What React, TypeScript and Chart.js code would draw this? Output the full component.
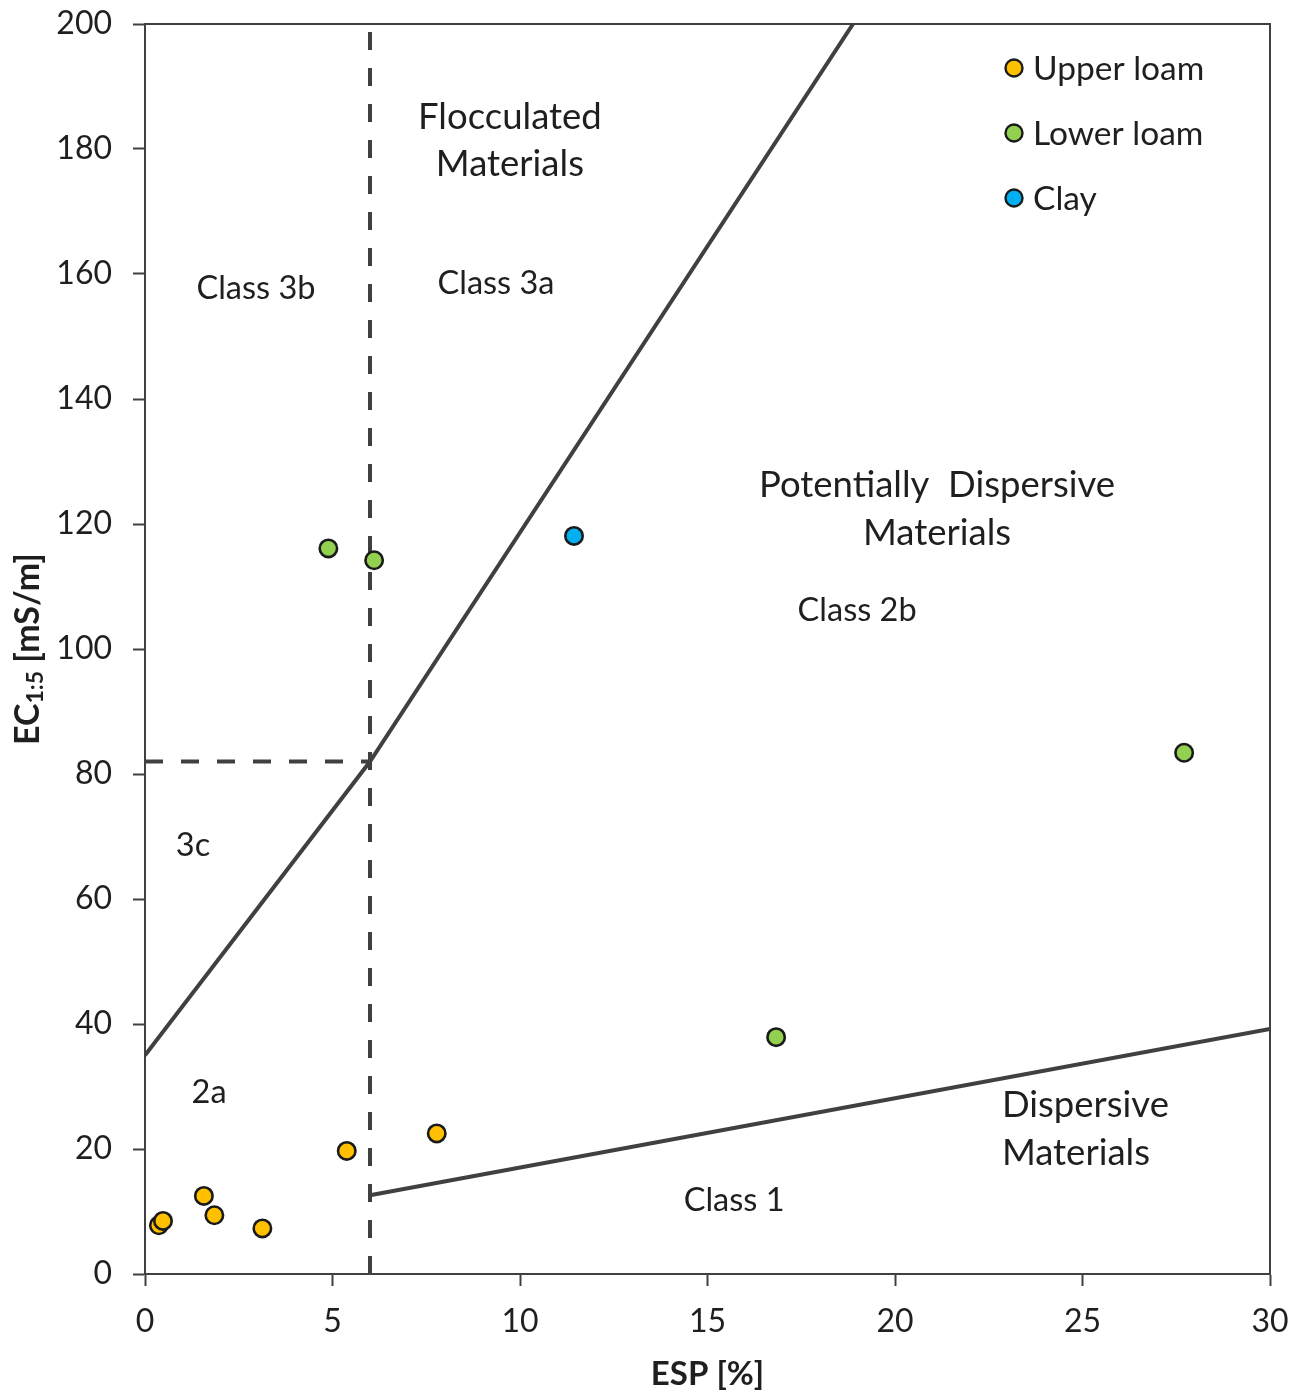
import React, { useEffect, useRef } from "react";
import { Chart, registerables } from "chart.js";

Chart.register(...registerables);

// ---- Data ----
const upperLoamESP = [0.37, 0.48, 1.57, 1.85, 3.13, 5.38, 7.78];
const upperLoamEC = [7.8, 8.5, 12.5, 9.4, 7.3, 19.7, 22.5];
const lowerLoamESP = [4.89, 6.11, 16.83, 27.71];
const lowerLoamEC = [116.1, 114.2, 37.9, 83.4];
const clayESP = [11.44];
const clayEC = [118.1];

// class boundaries
const upperBoundaryESP = [0, 6, 18.88];
const upperBoundaryEC = [35, 82, 200];
const lowerBoundaryESP = [6, 30];
const lowerBoundaryEC = [12.6, 39.2];
const verticalDashESP = [6, 6];
const verticalDashEC = [0, 200];
const horizontalDashESP = [0, 6];
const horizontalDashEC = [82, 82];

const xTickValues = [0, 5, 10, 15, 20, 25, 30];
const yTickValues = [0, 20, 40, 60, 80, 100, 120, 140, 160, 180, 200];

const seriesNames = ["Upper loam", "Lower loam", "Clay"];
const seriesColors = ["#FFC000", "#92D050", "#00B0F0"];

// region labels (text, anchor in data units)
const regionTexts = ["Flocculated", "Materials", "Class 3b", "Class 3a", "Potentially  Dispersive", "Materials", "Class 2b", "3c", "2a", "Dispersive", "Materials", "Class 1"];
const regionESP = [9.73, 9.73, 2.96, 9.36, 21.12, 21.12, 18.99, 1.28, 1.71, 22.85, 22.85, 15.71];
const regionEC = [185.1, 177.5, 157.6, 158.4, 126.2, 118.6, 106.2, 68.5, 29.0, 27.0, 19.4, 11.7];
const regionBig = [true, true, false, false, true, true, false, false, false, true, true, false];
const regionAlign = ["center", "center", "center", "center", "center", "center", "center", "center", "center", "left", "left", "center"];

const FONT = "Lato, 'Noto Sans', sans-serif";
const AXIS = "#404040";
const TEXT = "#1f1f1f";

const toPts = (xs: number[], ys: number[]) => xs.map((x, i) => ({ x, y: ys[i] }));

const overlayPlugin = {
  id: "overlay",
  afterDraw(chart: any) {
    const { ctx, chartArea, scales } = chart;
    const xs = scales.x;
    const ys = scales.y;
    ctx.save();
    // frame
    ctx.strokeStyle = AXIS;
    ctx.lineWidth = 2;
    ctx.strokeRect(chartArea.left, chartArea.top, chartArea.right - chartArea.left, chartArea.bottom - chartArea.top);

    // region labels
    ctx.fillStyle = TEXT;
    ctx.textBaseline = "middle";
    regionTexts.forEach((t, i) => {
      ctx.font = `${regionBig[i] ? 36.5 : 32.5}px ${FONT}`;
      ctx.textAlign = regionAlign[i] as CanvasTextAlign;
      ctx.fillText(t, xs.getPixelForValue(regionESP[i]), ys.getPixelForValue(regionEC[i]));
    });

    // legend
    const lx = chartArea.right - 256;
    const ly0 = chartArea.top + 44;
    seriesNames.forEach((name, i) => {
      const cy = ly0 + i * 65;
      ctx.beginPath();
      ctx.arc(lx, cy, 8.5, 0, Math.PI * 2);
      ctx.fillStyle = seriesColors[i];
      ctx.fill();
      ctx.lineWidth = 2.4;
      ctx.strokeStyle = "#1a1a1a";
      ctx.stroke();
      ctx.fillStyle = TEXT;
      ctx.font = `33.5px ${FONT}`;
      ctx.textAlign = "left";
      ctx.textBaseline = "middle";
      ctx.fillText(name, lx + 19, cy + 1);
    });

    // y axis title with subscript
    ctx.save();
    ctx.translate(28, (chartArea.top + chartArea.bottom) / 2);
    ctx.rotate(-Math.PI / 2);
    ctx.fillStyle = TEXT;
    ctx.textBaseline = "middle";
    ctx.textAlign = "left";
    const parts: [string, number, number][] = [["EC", 34, 0], ["1:5", 23, 8], [" [mS/m]", 34, 0]];
    let total = 0;
    parts.forEach(([t, s]) => {
      ctx.font = `bold ${s}px ${FONT}`;
      total += ctx.measureText(t).width;
    });
    let px = -total / 2;
    parts.forEach(([t, s, dy]) => {
      ctx.font = `bold ${s}px ${FONT}`;
      ctx.fillText(t, px, dy);
      px += ctx.measureText(t).width;
    });
    ctx.restore();
    ctx.restore();
  },
};

export default function App() {
  const ref = useRef<HTMLCanvasElement | null>(null);
  useEffect(() => {
    if (!ref.current) return;
    const lineStyle = {
      type: "line" as const,
      showLine: true,
      pointRadius: 0,
      borderColor: AXIS,
      borderWidth: 4,
      fill: false,
      tension: 0,
      order: 2,
    };
    const pointStyle = (i: number) => ({
      type: "scatter" as const,
      label: seriesNames[i],
      backgroundColor: seriesColors[i],
      borderColor: "#1a1a1a",
      borderWidth: 2.6,
      pointRadius: 8.7,
      order: 0,
    });
    const chart = new Chart(ref.current, {
      type: "scatter",
      data: {
        datasets: [
          { ...lineStyle, label: "boundary upper", data: toPts(upperBoundaryESP, upperBoundaryEC) },
          { ...lineStyle, label: "boundary lower", data: toPts(lowerBoundaryESP, lowerBoundaryEC) },
          { ...lineStyle, label: "ESP 6", borderDash: [18, 18], data: toPts(verticalDashESP, verticalDashEC) },
          { ...lineStyle, label: "EC 82", borderDash: [18, 18], data: toPts(horizontalDashESP, horizontalDashEC) },
          { ...pointStyle(0), data: toPts(upperLoamESP, upperLoamEC) },
          { ...pointStyle(1), data: toPts(lowerLoamESP, lowerLoamEC) },
          { ...pointStyle(2), data: toPts(clayESP, clayEC) },
        ] as any,
      },
      options: {
        responsive: false,
        animation: false,
        layout: { padding: { top: 24, right: 35, left: 0, bottom: 0 } },
        plugins: { legend: { display: false }, tooltip: { enabled: false } },
        scales: {
          x: {
            type: "linear",
            min: 0,
            max: 30,
            afterBuildTicks: (s: any) => {
              s.ticks = xTickValues.map((v) => ({ value: v }));
            },
            afterFit: (s: any) => {
              s.height = 120;
            },
            ticks: { color: TEXT, font: { family: FONT, size: 32 }, padding: 16, maxRotation: 0 },
            grid: { drawOnChartArea: false, drawTicks: true, tickLength: 12, tickWidth: 2, tickColor: AXIS },
            border: { display: true, color: AXIS, width: 2 },
            title: { display: true, text: "ESP [%]", color: TEXT, font: { family: FONT, size: 33, weight: "bold" }, padding: { top: 0, bottom: 0 } },
          },
          y: {
            type: "linear",
            min: 0,
            max: 200,
            afterBuildTicks: (s: any) => {
              s.ticks = yTickValues.map((v) => ({ value: v }));
            },
            afterFit: (s: any) => {
              s.width = 145;
              s.paddingTop = 0;
              s.paddingBottom = 0;
            },
            ticks: { color: TEXT, font: { family: FONT, size: 32, lineHeight: 0.3 }, padding: 21 },
            grid: { drawOnChartArea: false, drawTicks: true, tickLength: 12, tickWidth: 2, tickColor: AXIS },
            border: { display: true, color: AXIS, width: 2 },
          },
        },
      } as any,
      plugins: [overlayPlugin],
    });
    return () => chart.destroy();
  }, []);
  return (
    <>
      <style>{`body{margin:0;background:#fff}`}</style>
      <canvas ref={ref} width={1305} height={1394} style={{ display: "block" }} />
    </>
  );
}
